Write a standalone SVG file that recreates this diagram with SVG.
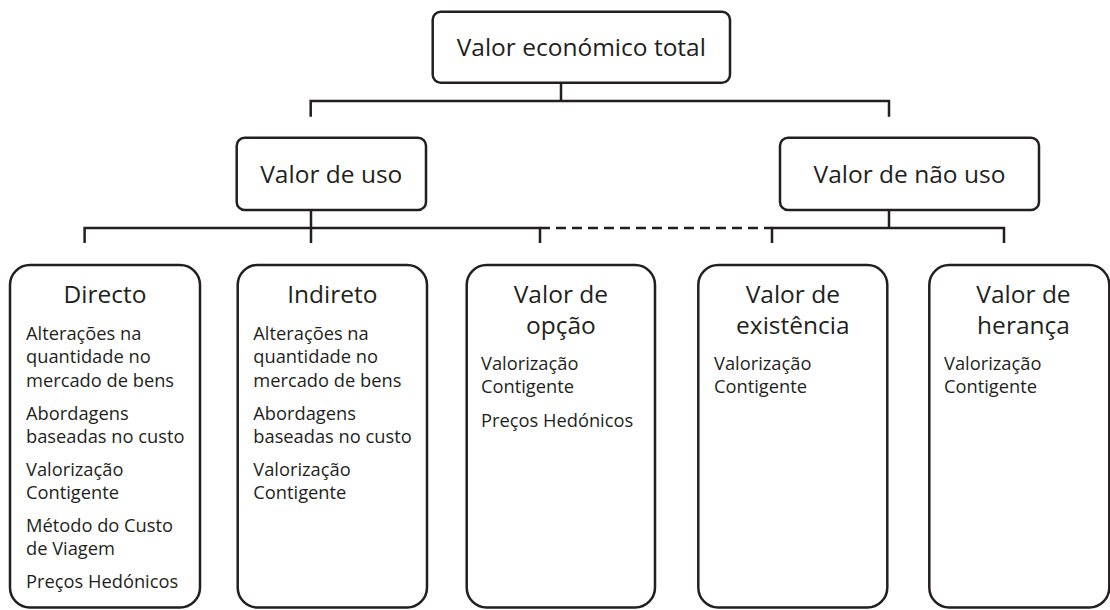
<svg xmlns="http://www.w3.org/2000/svg" width="1110" height="610" viewBox="0 0 1110 610">
<style>
.box{fill:#fff;stroke:#231f20;stroke-width:2.5}
.ln{fill:none;stroke:#231f20;stroke-width:2.5}
.dash{fill:none;stroke:#231f20;stroke-width:2.5;stroke-dasharray:10 6}
.t{font-family:"Open Sans","Noto Sans","Liberation Sans",sans-serif;fill:#231f20}
.h{font-size:24.5px;text-anchor:middle}
.b{font-size:18.3px}
</style>
<rect width="1110" height="610" fill="#fff"/>
<g id="connectors">
<line x1="561" y1="64" x2="561" y2="83" stroke="#dcdcdc" stroke-width="2.5"/>
<path class="ln" d="M561 83V101M310.7 116.7V101H889V116.7"/>
<path class="ln" d="M311 210V243M889 210V228M84.6 243V228H540V243M772 243V228H1004V243"/>
<path class="dash" d="M540 228H772"/>
</g>
<g id="n-total">
<rect class="box" x="432.7" y="11.7" width="297.3" height="71" rx="8"/>
<text class="t h" x="581.3" y="55.5">Valor económico total</text>
</g>
<g id="n-uso">
<rect class="box" x="236.7" y="137.7" width="189.3" height="72.3" rx="8"/>
<text class="t h" x="331.3" y="182.5">Valor de uso</text>
</g>
<g id="n-naouso">
<rect class="box" x="780" y="137.7" width="259" height="72.3" rx="8"/>
<text class="t h" x="909.5" y="182.5">Valor de não uso</text>
</g>
<g id="n-directo">
<rect class="box" x="10" y="265" width="190" height="342.5" rx="20"/>
<text class="t h" x="105" y="302.7">Directo</text>
<text class="t b" x="26"><tspan x="26" y="340">Alterações na</tspan><tspan x="26" y="363.3">quantidade no</tspan><tspan x="26" y="386.7">mercado de bens</tspan><tspan x="26" y="419.5">Abordagens</tspan><tspan x="26" y="442.8">baseadas no custo</tspan><tspan x="26" y="475.5">Valorização</tspan><tspan x="26" y="498.8">Contigente</tspan><tspan x="26" y="531.5">Método do Custo</tspan><tspan x="26" y="554.8">de Viagem</tspan><tspan x="26" y="587.5">Preços Hedónicos</tspan></text>
</g>
<g id="n-indireto">
<rect class="box" x="237.7" y="265" width="189.3" height="342.5" rx="20"/>
<text class="t h" x="332.4" y="302.7">Indireto</text>
<text class="t b"><tspan x="253.3" y="340">Alterações na</tspan><tspan x="253.3" y="363.3">quantidade no</tspan><tspan x="253.3" y="386.7">mercado de bens</tspan><tspan x="253.3" y="419.5">Abordagens</tspan><tspan x="253.3" y="442.8">baseadas no custo</tspan><tspan x="253.3" y="475.5">Valorização</tspan><tspan x="253.3" y="498.8">Contigente</tspan></text>
</g>
<g id="n-opcao">
<rect class="box" x="466.7" y="265" width="188.3" height="342.5" rx="20"/>
<text class="t h"><tspan x="560.9" y="303.3">Valor de</tspan><tspan x="560.9" y="334">opção</tspan></text>
<text class="t b"><tspan x="481" y="370">Valorização</tspan><tspan x="481" y="393.3">Contigente</tspan><tspan x="481" y="426.7">Preços Hedónicos</tspan></text>
</g>
<g id="n-existencia">
<rect class="box" x="698.3" y="265" width="189" height="342.5" rx="20"/>
<text class="t h"><tspan x="792.8" y="303.3">Valor de</tspan><tspan x="792.8" y="334">existência</tspan></text>
<text class="t b"><tspan x="714" y="370">Valorização</tspan><tspan x="714" y="393.3">Contigente</tspan></text>
</g>
<g id="n-heranca">
<rect class="box" x="929.3" y="265" width="180" height="342.5" rx="20"/>
<text class="t h"><tspan x="1023.5" y="303.3">Valor de</tspan><tspan x="1023.5" y="334">herança</tspan></text>
<text class="t b"><tspan x="944" y="370">Valorização</tspan><tspan x="944" y="393.3">Contigente</tspan></text>
</g>
</svg>
